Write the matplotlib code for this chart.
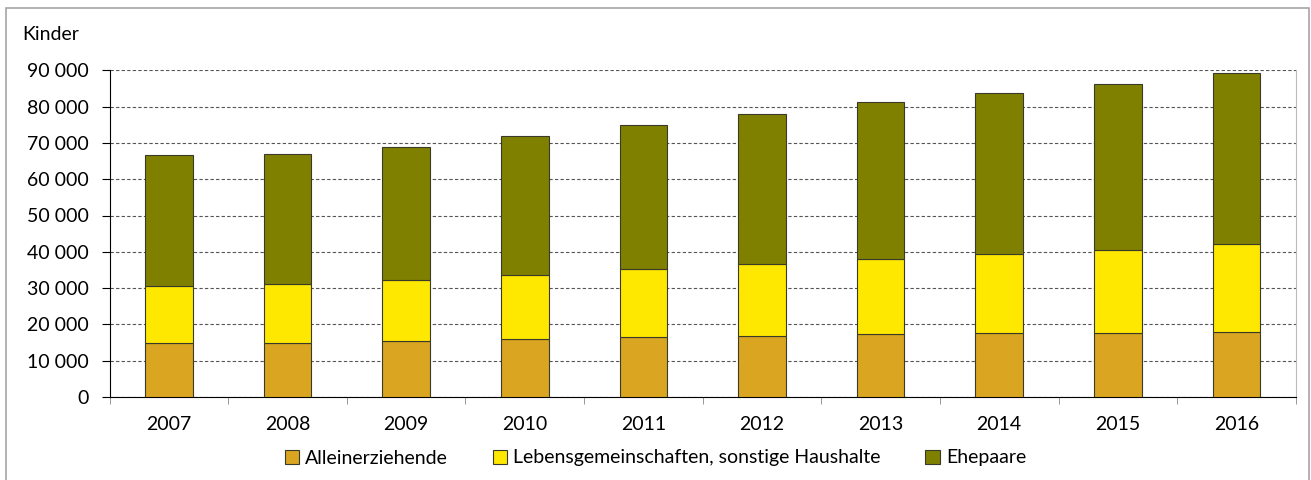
import matplotlib.pyplot as plt
import numpy as np
from matplotlib.patches import Rectangle
from matplotlib.ticker import FuncFormatter, MultipleLocator

years = ['2007', '2008', '2009', '2010', '2011', '2012', '2013', '2014', '2015', '2016']
alleinerziehende = [14790, 14880, 15340, 15890, 16530, 16800, 17350, 17630, 17710, 17900]
# cumulative tops
top_lebensgem = [30500, 31050, 32150, 33690, 35170, 36560, 37930, 39300, 40400, 42060]
top_total = [66670, 66860, 68870, 71800, 74850, 77960, 81180, 83660, 86140, 89170]

lebensgem = [t - a for t, a in zip(top_lebensgem, alleinerziehende)]
ehepaare = [t - l for t, l in zip(top_total, top_lebensgem)]

labels = ['Alleinerziehende', 'Lebensgemeinschaften, sonstige Haushalte', 'Ehepaare']
colors = ['#DAA520', '#FFE800', '#808000']

plt.rcParams['font.family'] = ['Lato', 'DejaVu Sans']
FS = 14

fig = plt.figure(figsize=(13.11, 4.8), dpi=100)
fig.patches.append(Rectangle((6 / 1311, -0.05), 1303 / 1311, 1.05 - 8 / 480,
                             transform=fig.transFigure, fill=False,
                             edgecolor='#A6A6A6', linewidth=1.2))
ax = fig.add_axes([109.7 / 1311, 83 / 480, 1186 / 1311, 326.7 / 480])

x = np.arange(len(years))
bottom = np.zeros(len(years))
for vals, lab, col in zip([alleinerziehende, lebensgem, ehepaare], labels, colors):
    ax.bar(x, vals, width=0.4, bottom=bottom, color=col, edgecolor='#3A3A2A',
           linewidth=0.8, label=lab, zorder=3)
    bottom += np.array(vals)

ax.set_xlim(-0.5, len(years) - 0.5)
ax.set_ylim(0, 90000)
ax.yaxis.set_major_locator(MultipleLocator(10000))
ax.yaxis.set_major_formatter(FuncFormatter(lambda v, p: f'{int(v):,}'.replace(',', ' ')))
ax.grid(axis='y', linestyle=(0, (3, 2)), color='#555555', linewidth=0.8, zorder=0)

ax.set_xticks(x)
ax.set_xticklabels(years)
ax.set_xticks(np.arange(-0.5, len(years)), minor=True)
ax.tick_params(axis='x', which='major', length=0, pad=14, labelsize=FS)
ax.tick_params(axis='x', which='minor', length=5, color='#888888', direction='out')
ax.tick_params(axis='y', length=6, labelsize=FS, pad=9)

ax.spines['left'].set_color('black')
ax.spines['bottom'].set_color('black')
ax.spines['top'].set_visible(False)
ax.spines['right'].set_color('#BBBBBB')

fig.text(22 / 1311, 1 - 35 / 480, 'Kinder', fontsize=FS, va='center', ha='left')

fig.legend(loc='center', bbox_to_anchor=(0.5, 1 - 458 / 480), ncol=3, frameon=False,
           fontsize=FS, handlelength=0.75, handleheight=0.75, handletextpad=0.3,
           columnspacing=2.3)

fig.savefig('out.png', dpi=100, facecolor='white')
